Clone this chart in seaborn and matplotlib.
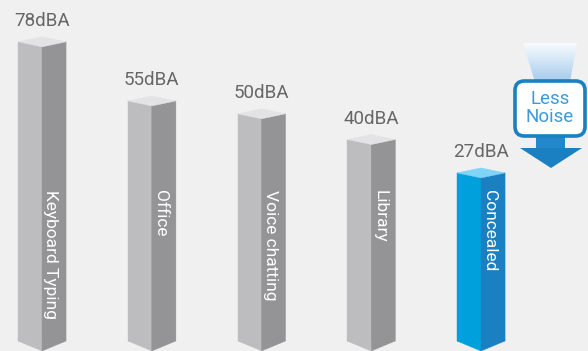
import numpy as np
import matplotlib
matplotlib.use("Agg")
import matplotlib.pyplot as plt
import matplotlib.transforms as mtransforms
from matplotlib.patches import Polygon, FancyBboxPatch
import seaborn as sns

# ---- data ----
categories = ["Keyboard Typing", "Office", "Voice chatting", "Library", "Concealed"]
noise_dba = [78, 55, 50, 40, 27]
value_labels = ["78dBA", "55dBA", "50dBA", "40dBA", "27dBA"]
callout_text = "Less\nNoise"

FLOOR = -38.4  # value level at the foot of the columns

sns.set_theme(style="white")
plt.rcParams["font.family"] = ["Roboto", "DejaVu Sans"]
VAL_FS, CAT_FS, CALL_FS, WEIGHT = 13.5, 12.5, 13.5, "normal"

BG = "#f0f0f0"
grey_faces = ("#bdbdbf", "#949497", "#e3e3e5")
blue_faces = ("#00a0dc", "#1a80c1", "#7fd4f7")
face_sets = [grey_faces] * 4 + [blue_faces]

fig = plt.figure(figsize=(5.88, 3.51), dpi=100, facecolor=BG)
ax = fig.add_axes([0, 0, 1, 1])
ax.set_facecolor(BG)

heights = [v - FLOOR for v in noise_dba]
sns.barplot(x=categories, y=heights, hue=categories,
            palette=[f[0] for f in face_sets], legend=False,
            width=0.437, saturation=1, linewidth=0, ax=ax)

ax.set_xlim(-0.383, 4.975)
ax.set_ylim(-3.89, 132.68)
ax.axis("off")

dt, db = 1.95, 3.89
blend = mtransforms.blended_transform_factory(ax.transData, ax.transAxes)
patches = sorted(ax.patches, key=lambda p: p.get_x())
for patch, faces, vlab, cat in zip(patches, face_sets, value_labels, categories):
    xl = patch.get_x()
    w = patch.get_width()
    xc = xl + w / 2
    xr = xl + w
    h = patch.get_height()
    left_c, right_c, top_c = faces
    patch.set_edgecolor(left_c)
    patch.set_linewidth(0.3)
    ax.add_patch(Polygon([(xl, 0), (xc, 0), (xc, -db)], closed=True,
                         facecolor=left_c, edgecolor=left_c, lw=0.3, zorder=2))
    ax.add_patch(Polygon([(xc, h - dt), (xr, h), (xr, 0), (xc, -db)], closed=True,
                         facecolor=right_c, edgecolor=right_c, lw=0.3, zorder=3))
    ax.add_patch(Polygon([(xl, h), (xc, h + dt), (xr, h), (xc, h - dt)], closed=True,
                         facecolor=top_c, edgecolor=top_c, lw=0.3, zorder=4))
    ax.text(xc, h + 6.2, vlab, ha="center", va="baseline", fontsize=VAL_FS,
            color="#666666", fontweight=WEIGHT, zorder=5)
    ax.text(xc + 0.08, 1 - 190 / 351, cat, transform=blend, rotation=270,
            ha="center", va="top", fontsize=CAT_FS, color="white",
            fontweight=WEIGHT, zorder=5)


def P(x, y):
    return (x / 588, 1 - y / 351)


# gradient funnel above the callout
grad = np.zeros((64, 1, 4))
top = np.array(matplotlib.colors.to_rgba("#f8fbfe"))
bot = np.array(matplotlib.colors.to_rgba("#a4cbec"))
for i in range(64):
    t = i / 63
    grad[i, 0, :] = top * (1 - t) + bot * t
x0, y0 = P(523, 82)
x1, y1 = P(577, 43)
im = ax.imshow(grad, extent=[x0, x1, y0, y1], transform=ax.transAxes,
               aspect="auto", origin="upper", zorder=6)
funnel = Polygon([P(523, 43), P(577, 43), P(570, 82), P(535, 82)], closed=True,
                 transform=ax.transAxes, facecolor="none", edgecolor="none")
ax.add_patch(funnel)
im.set_clip_path(funnel)

# arrow stem and head
ax.add_patch(Polygon([P(536, 136), P(565, 136), P(565, 149), P(536, 149)], closed=True,
                     transform=ax.transAxes, facecolor="#2489cc", edgecolor="none", zorder=7))
ax.add_patch(Polygon([P(520, 148), P(582, 148), P(551, 168)], closed=True,
                     transform=ax.transAxes, facecolor="#1a80c1", edgecolor="none", zorder=7))

# callout box
bx0, by0 = P(515, 136)
bx1, by1 = P(585, 81)
box = FancyBboxPatch((bx0, by0), bx1 - bx0, by1 - by0,
                     boxstyle="round,pad=0,rounding_size=0.016",
                     mutation_aspect=588 / 351, transform=ax.transAxes,
                     facecolor="white", edgecolor="#1a80c1", linewidth=2.6, zorder=8)
ax.add_patch(box)
tx, ty = P(550, 108)
ax.text(tx, ty, callout_text, transform=ax.transAxes, ha="center", va="center",
        fontsize=CALL_FS, color="#3d9ad8", fontweight=WEIGHT, linespacing=0.95, zorder=9)

ax.set_xlim(-0.383, 4.975)
ax.set_ylim(-3.89, 132.68)
fig.savefig("out.png", dpi=100, facecolor=BG)
